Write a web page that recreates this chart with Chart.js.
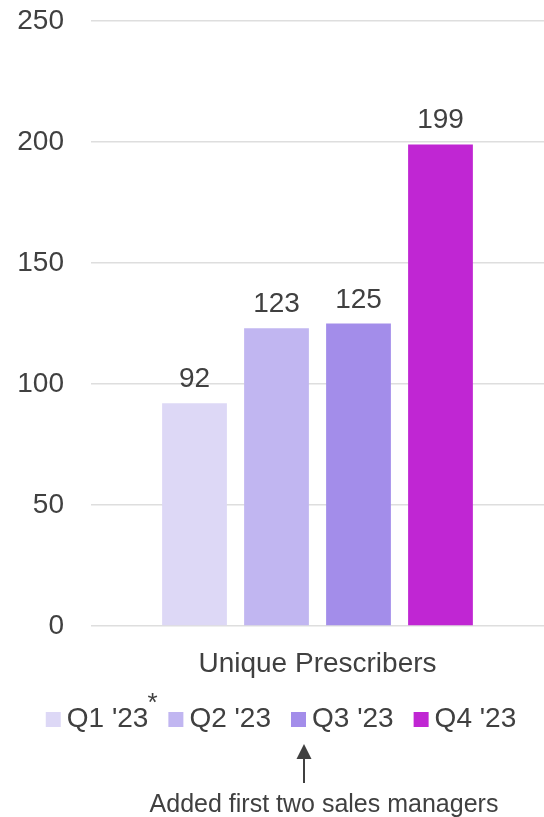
<!DOCTYPE html>
<html>
<head>
    <title>Unique Prescribers</title>
    <script src="https://cdn.jsdelivr.net/npm/chart.js"></script>
    <style>
        body { margin: 0; background: #fff; }
        #wrap { width: 544px; height: 817px; position: relative; }
    </style>
</head>
<body>
    <div id="wrap"><canvas id="prescriberChart"></canvas></div>
    <script>
        const categories = ["Unique Prescribers"];
        const quarters = ["Q1 '23", "Q2 '23", "Q3 '23", "Q4 '23"];
        const prescribers = [92, 123, 125, 199];
        const yTicks = [0, 50, 100, 150, 200, 250];
        const noteText = "Added first two sales managers";
        const noteQuarter = "Q3 '23";
        const starQuarter = "Q1 '23";

        const colors = ['#ddd8f6', '#c1b6f1', '#a38dea', '#c026d3'];
        const textColor = '#404040';
        const fontFamily = '"Liberation Sans", Arial, sans-serif';

        // value labels above each bar
        const barLabels = {
            id: 'barLabels',
            afterDatasetsDraw(chart) {
                const ctx = chart.ctx;
                ctx.save();
                ctx.fillStyle = textColor;
                ctx.font = '28px ' + fontFamily;
                ctx.textAlign = 'center';
                ctx.textBaseline = 'alphabetic';
                chart.data.datasets.forEach((ds, i) => {
                    chart.getDatasetMeta(i).data.forEach((bar, j) => {
                        ctx.fillText(ds.data[j], bar.x, bar.y - 16);
                    });
                });
                ctx.restore();
            }
        };

        // legend at bottom, asterisk and arrow note
        const bottomLegend = {
            id: 'bottomLegend',
            afterDraw(chart) {
                const ctx = chart.ctx;
                ctx.save();
                ctx.font = '28px ' + fontFamily;
                const box = 15, gap = 6, itemGap = 20;
                const widths = chart.data.datasets.map(ds => box + gap + ctx.measureText(ds.label).width);
                const total = widths.reduce((a, b) => a + b, 0) + itemGap * (widths.length - 1);
                let x = 281 - total / 2;
                const midY = 719;
                chart.data.datasets.forEach((ds, i) => {
                    ctx.fillStyle = ds.backgroundColor;
                    ctx.fillRect(x, midY - 7, box, box);
                    ctx.fillStyle = textColor;
                    ctx.font = '28px ' + fontFamily;
                    ctx.textBaseline = 'middle';
                    ctx.textAlign = 'left';
                    ctx.fillText(ds.label, x + box + gap, midY);
                    const textEnd = x + widths[i];
                    if (ds.label === starQuarter) {
                        ctx.font = '26px ' + fontFamily;
                        ctx.textBaseline = 'alphabetic';
                        ctx.fillText('*', textEnd - 1, 711);
                    }
                    if (ds.label === noteQuarter) {
                        const ax = x + 13;
                        ctx.strokeStyle = textColor;
                        ctx.lineWidth = 2;
                        ctx.beginPath();
                        ctx.moveTo(ax, 756);
                        ctx.lineTo(ax, 783);
                        ctx.stroke();
                        ctx.beginPath();
                        ctx.moveTo(ax, 744);
                        ctx.lineTo(ax - 7.5, 759);
                        ctx.lineTo(ax + 7.5, 759);
                        ctx.closePath();
                        ctx.fill();
                    }
                    x += widths[i] + itemGap;
                });
                ctx.font = '25px ' + fontFamily;
                ctx.textAlign = 'center';
                ctx.textBaseline = 'alphabetic';
                ctx.fillText(noteText, 324, 812);
                ctx.restore();
            }
        };

        new Chart(document.getElementById('prescriberChart'), {
            type: 'bar',
            data: {
                labels: categories,
                datasets: quarters.map((q, i) => ({
                    label: q,
                    data: [prescribers[i]],
                    backgroundColor: colors[i],
                    categoryPercentage: 0.724,
                    barPercentage: 0.79
                }))
            },
            options: {
                responsive: true,
                maintainAspectRatio: false,
                animation: false,
                layout: { padding: { top: 21, left: 17, right: 0, bottom: 138 } },
                plugins: {
                    legend: { display: false },
                    tooltip: { enabled: false }
                },
                scales: {
                    x: {
                        grid: { display: false },
                        border: { display: false },
                        afterFit: axis => { axis.height = 53; },
                        ticks: {
                            color: textColor,
                            padding: 13,
                            font: { family: fontFamily, size: 28 }
                        }
                    },
                    y: {
                        min: yTicks[0],
                        max: yTicks[yTicks.length - 1],
                        afterBuildTicks: axis => { axis.ticks = yTicks.map(v => ({ value: v })); },
                        afterFit: axis => {
                            axis.width = 74;
                            axis.paddingTop = 0;
                            axis.paddingBottom = 0;
                        },
                        grid: { color: '#dedede', lineWidth: 1.5, drawTicks: false },
                        border: { display: false },
                        ticks: {
                            color: textColor,
                            padding: 27,
                            font: { family: fontFamily, size: 28 }
                        }
                    }
                }
            },
            plugins: [barLabels, bottomLegend]
        });
    </script>
</body>
</html>
